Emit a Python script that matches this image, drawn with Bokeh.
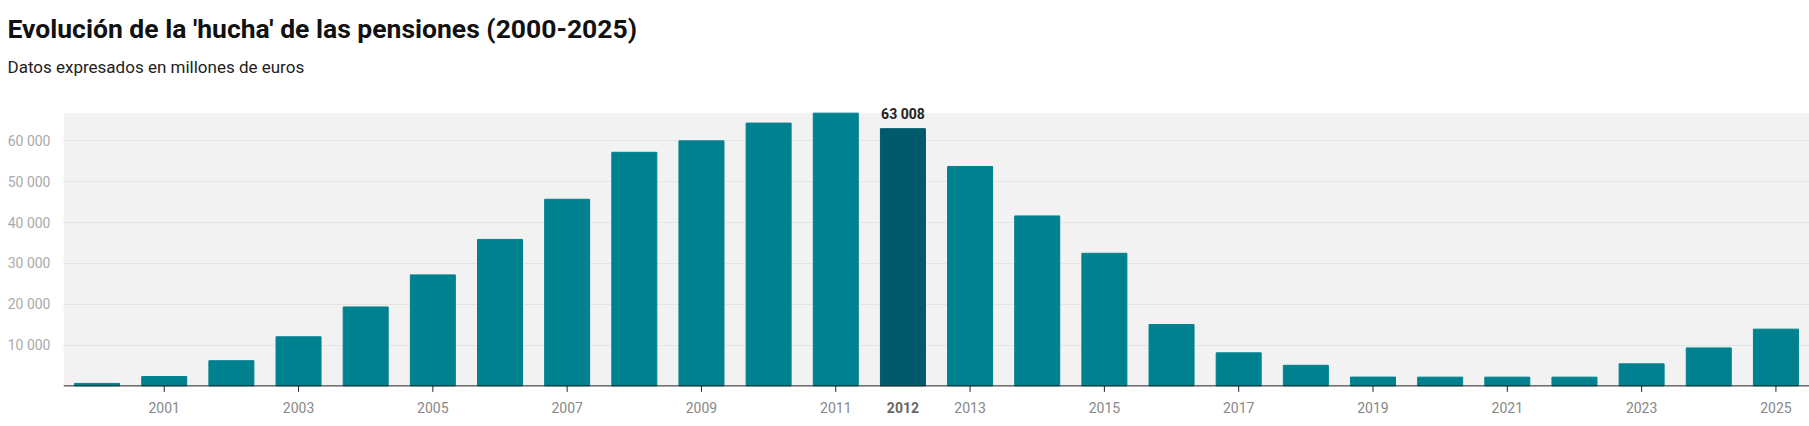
import math
from bokeh.plotting import figure
from bokeh.models import (ColumnDataSource, FixedTicker, Label, LabelSet, Title,
                          BoxAnnotation, Span)
from bokeh.core.properties import value
from bokeh.embed import file_html
from bokeh.resources import INLINE

# ---- data ----
years = list(range(2000, 2026))
values = [601, 2280, 6169, 12025, 19330, 27192, 35880, 45716, 57223, 60022,
          64375, 66815, 63008, 53744, 41634, 32481, 15020, 8095, 5043, 2153,
          2138, 2138, 2138, 5400, 9300, 13900]
highlight_year = 2012
x_tick_years = list(range(2001, 2026, 2))
x_tick_labels = [str(y) for y in x_tick_years]
y_ticks = [10000, 20000, 30000, 40000, 50000, 60000]
y_tick_labels = ["10 000", "20 000", "30 000", "40 000", "50 000", "60 000"]

title_text = "Evolución de la 'hucha' de las pensiones (2000-2025)"
subtitle_text = "Datos expresados en millones de euros"

BAR = "#00818f"
BAR_HL = "#005a6b"
colors = [BAR_HL if y == highlight_year else BAR for y in years]

src = ColumnDataSource(dict(x=years, top=values, color=colors))
tick_src = ColumnDataSource(dict(x=x_tick_years, y=[0] * len(x_tick_years),
                                 text=x_tick_labels))

p = figure(width=1809, height=424, output_backend="svg", toolbar_location=None,
           x_range=(1999.5, 2025.5), y_range=(-9460, 75790),
           x_axis_location=None,
           min_border_left=63, min_border_right=0, min_border_top=0,
           min_border_bottom=0, background_fill_color="white",
           border_fill_color="white", outline_line_color=None, title=None)

# grey plot band from 0 to the largest value
p.add_layout(BoxAnnotation(bottom=0, top=max(values), fill_color="#f2f2f2",
                           fill_alpha=1, line_color=None, level="image"))

p.vbar(x="x", top="top", width=0.67, color="color", source=src)

# titles
sub = Title(text=subtitle_text, text_font="Roboto", text_font_size="17px",
            text_font_style="normal", text_color="#222222", align="left",
            offset=-56, standoff=0)
p.add_layout(sub, "above")
ttl = Title(text=title_text, text_font="Roboto", text_font_size="26.5px",
            text_font_style="bold", text_color="#111111", align="left",
            offset=-56, standoff=21)
p.add_layout(ttl, "above")

# x axis (drawn inside the frame)
p.add_layout(Span(location=0, dimension="width", line_color="#222222", line_width=1))
p.ray(x="x", y="y", length=6, length_units="screen", angle=-math.pi / 2,
      line_color="#222222", line_width=1, source=tick_src)
p.add_layout(LabelSet(x="x", y="y", text="text", y_offset=-22, source=tick_src,
                      text_font=value("Roboto"), text_font_size=value("14px"),
                      text_color=value("#888888"), text_align="center",
                      text_baseline="middle"))
p.add_layout(Label(x=highlight_year, y=0, y_offset=-22, text=str(highlight_year),
                   text_font="Roboto", text_font_size="14px", text_font_style="bold",
                   text_color="#666666", text_align="center", text_baseline="middle"))

# y axis
ya = p.yaxis[0]
ya.ticker = FixedTicker(ticks=y_ticks)
ya.major_label_overrides = dict(zip(y_ticks, y_tick_labels))
ya.axis_line_color = None
ya.major_tick_line_color = None
ya.minor_tick_line_color = None
ya.major_label_text_font = "Roboto"
ya.major_label_text_font_size = "14px"
ya.major_label_text_color = "#aaaaaa"
ya.major_label_standoff = 7

p.xgrid.grid_line_color = None
p.ygrid.ticker = FixedTicker(ticks=y_ticks)
p.ygrid.grid_line_color = "#e4e4e4"
p.ygrid.grid_line_width = 1

hl_value = values[years.index(highlight_year)]
p.add_layout(Label(x=highlight_year, y=hl_value, y_offset=15,
                   text=f"{hl_value:,}".replace(",", " "),
                   text_font="Roboto", text_font_size="14px", text_font_style="bold",
                   text_color="#222222", text_align="center", text_baseline="middle"))

open("out.html", "w").write(file_html(p, INLINE))
